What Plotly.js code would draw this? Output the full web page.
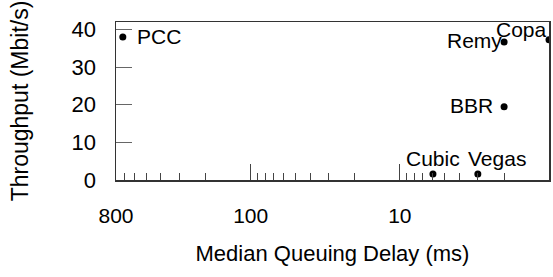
<!DOCTYPE html>
<html><head><meta charset="utf-8">
<script src="https://cdn.plot.ly/plotly-3.0.1.min.js"></script>
<style>html,body{margin:0;padding:0;background:#fff}</style>
</head><body><div id="chart" style="width:553px;height:277px"></div>
<script>
const schemes = ['PCC', 'Remy', 'Copa', 'BBR', 'Cubic', 'Vegas'];
const delayMs = [720, 2.0, 1.0, 2.0, 6.0, 3.0];
const throughputMbps = [38.0, 36.7, 37.3, 19.5, 1.6, 1.6];
const xTickVals = [800, 100, 10, 1];
const xTickText = ['800', '100', '10', '1'];
const xMinorTickVals = [700, 600, 500, 400, 300, 200, 90, 80, 70, 60, 50, 40, 30, 20, 9, 8, 7, 6, 5, 4, 3, 2];
const yTickVals = [0, 10, 20, 30, 40];

// label placement per scheme: [xanchor, yanchor, xshift, yshift]
const labelPlacement = {
  PCC: ['left', 'middle', 13, 1],
  Remy: ['right', 'middle', -1, 1],
  Copa: ['right', 'bottom', -1, -2],
  BBR: ['right', 'middle', -10, 1],
  Cubic: ['center', 'bottom', 0, 3],
  Vegas: ['center', 'bottom', 19, 3]
};

const FONT = 'Liberation Sans, Arial, Helvetica, sans-serif';
const logR = [Math.log10(800), 0];

const traces = [
  {x: delayMs, y: throughputMbps, type: 'scatter', mode: 'markers',
   marker: {color: '#000', size: 7}, hoverinfo: 'text', text: schemes,
   xaxis: 'x', yaxis: 'y', showlegend: false},
  {x: [xMinorTickVals[0]], y: [0], type: 'scatter', mode: 'markers',
   marker: {opacity: 0}, xaxis: 'x2', yaxis: 'y', showlegend: false, hoverinfo: 'skip'}
];

const annotations = schemes.map((s, i) => {
  const p = labelPlacement[s];
  return {x: Math.log10(delayMs[i]), y: throughputMbps[i], xref: 'x', yref: 'y',
    text: s, showarrow: false, xanchor: p[0], yanchor: p[1], xshift: p[2], yshift: p[3],
    font: {family: FONT, size: 21, color: '#000'}, borderpad: 0};
});

const layout = {
  width: 553, height: 277,
  margin: {l: 116, r: 4, t: 22, b: 97},
  paper_bgcolor: '#fff', plot_bgcolor: '#fff',
  font: {family: FONT, size: 21, color: '#000'},
  showlegend: false,
  xaxis: {
    type: 'log', range: logR, tickvals: xTickVals, ticktext: xTickText,
    ticks: 'inside', ticklen: 16, tickcolor: '#444', tickwidth: 1,
    showline: true, mirror: true, linecolor: '#333', linewidth: 1.5,
    showgrid: false, zeroline: false, ticklabelstandoff: 16,
    tickfont: {family: FONT, size: 21},
    title: {text: 'Median Queuing Delay (ms)', font: {family: FONT, size: 22}, standoff: 20}
  },
  xaxis2: {
    type: 'log', range: logR, overlaying: 'x', anchor: 'y', side: 'bottom',
    tickvals: xMinorTickVals, ticks: 'inside', ticklen: 7, tickcolor: '#444', tickwidth: 1,
    showticklabels: false, showgrid: false, zeroline: false, showline: false
  },
  yaxis: {
    range: [0, 42], tickvals: yTickVals,
    ticks: 'inside', ticklen: 16, tickcolor: '#666', tickwidth: 1,
    showline: true, mirror: true, linecolor: '#333', linewidth: 1.5,
    showgrid: false, zeroline: false, ticklabelstandoff: 14,
    tickfont: {family: FONT, size: 22},
    title: {text: 'Throughput (Mbit/s)', font: {family: FONT, size: 23}, standoff: 36}
  },
  annotations: annotations
};

Plotly.newPlot('chart', traces, layout, {displayModeBar: false, staticPlot: true});
</script>
</body></html>
